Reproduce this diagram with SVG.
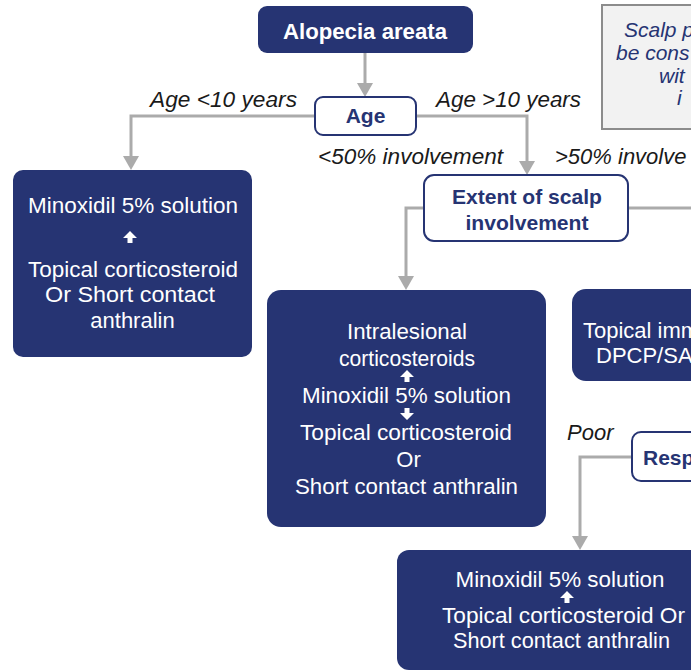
<svg xmlns="http://www.w3.org/2000/svg" width="691" height="672" viewBox="0 0 691 672">
<defs>
<style>
.dark{fill:#263473;}
.lite{fill:#ffffff;stroke:#263473;stroke-width:2;}
.note{fill:#f2f2f2;stroke:#8c8c8c;stroke-width:2;}
.wt{font-family:"Liberation Sans",Arial,sans-serif;font-size:22px;fill:#ffffff;text-anchor:middle;}
.bt{font-family:"Liberation Sans",Arial,sans-serif;font-size:22px;font-weight:bold;fill:#ffffff;text-anchor:middle;}
.nt{font-family:"Liberation Sans",Arial,sans-serif;font-size:21px;font-weight:bold;fill:#263473;text-anchor:middle;}
.lbl{font-family:"Liberation Sans",Arial,sans-serif;font-size:22px;font-style:italic;fill:#1a1a1a;}
.nit{font-family:"Liberation Sans",Arial,sans-serif;font-size:21px;font-style:italic;fill:#263473;}
.con{fill:none;stroke:#ababab;stroke-width:3;}
.wa{fill:#ffffff;}
</style>
<marker id="ah" viewBox="0 0 14 16" markerWidth="14" markerHeight="16" refX="8" refY="8" orient="auto" markerUnits="userSpaceOnUse">
<path d="M0,0 L14,8 L0,16 Z" fill="#ababab"/>
</marker>
</defs>

<g id="connectors">
<path class="con" d="M365,53 V91" marker-end="url(#ah)"/>
<path class="con" d="M315,116 H131 V164" marker-end="url(#ah)"/>
<path class="con" d="M416,116 H527 V169" marker-end="url(#ah)"/>
<path class="con" d="M424,208 H406 V284" marker-end="url(#ah)"/>
<path class="con" d="M628,208 H691"/>
<path class="con" d="M632,457 H580 V544" marker-end="url(#ah)"/>
</g>

<g id="labels">
<text class="lbl" x="150" y="107" textLength="147" lengthAdjust="spacingAndGlyphs">Age &lt;10 years</text>
<text class="lbl" x="436" y="107" textLength="145" lengthAdjust="spacingAndGlyphs">Age &gt;10 years</text>
<text class="lbl" x="318" y="164" textLength="185" lengthAdjust="spacingAndGlyphs">&lt;50% involvement</text>
<text class="lbl" x="555" y="164">&gt;50% involve</text>
<text class="lbl" x="567" y="440">Poor</text>
</g>

<g id="node-alopecia">
<rect class="dark" x="258" y="6" width="215" height="47" rx="9"/>
<text class="bt" x="365" y="39" textLength="164" lengthAdjust="spacingAndGlyphs">Alopecia areata</text>
</g>

<g id="node-age">
<rect class="lite" x="315" y="97" width="101" height="38" rx="8"/>
<text class="nt" x="365.5" y="123">Age</text>
</g>

<g id="node-scalp-note">
<rect class="note" x="602" y="5" width="120" height="124"/>
<text class="nit" x="624" y="37">Scalp p</text>
<text class="nit" x="616" y="60">be cons</text>
<text class="nit" x="659" y="83">wit</text>
<text class="nit" x="677" y="105">i</text>
</g>

<g id="node-extent">
<rect class="lite" x="424" y="175" width="204" height="66" rx="10"/>
<text class="nt" x="527" y="204" textLength="150" lengthAdjust="spacingAndGlyphs">Extent of scalp</text>
<text class="nt" x="527" y="230" textLength="123" lengthAdjust="spacingAndGlyphs">involvement</text>
</g>

<g id="node-child">
<rect class="dark" x="13" y="170" width="239" height="187" rx="10"/>
<text class="wt" x="133" y="213" textLength="210" lengthAdjust="spacingAndGlyphs">Minoxidil 5% solution</text>
<path class="wa" d="M130,231 L137,238 L132.5,238 L132.5,243 L127.5,243 L127.5,238 L123,238 Z"/>
<text class="wt" x="133" y="277" textLength="210" lengthAdjust="spacingAndGlyphs">Topical corticosteroid</text>
<text class="wt" x="130" y="302" textLength="170" lengthAdjust="spacingAndGlyphs">Or Short contact</text>
<text class="wt" x="132.5" y="328">anthralin</text>
</g>

<g id="node-intralesional">
<rect class="dark" x="267" y="290" width="279" height="237" rx="14"/>
<text class="wt" x="407" y="339" textLength="120" lengthAdjust="spacingAndGlyphs">Intralesional</text>
<text class="wt" x="407" y="366" textLength="136" lengthAdjust="spacingAndGlyphs">corticosteroids</text>
<path class="wa" d="M407,370 L414,377 L409.5,377 L409.5,382 L404.5,382 L404.5,377 L400,377 Z"/>
<text class="wt" x="406.5" y="403" textLength="209" lengthAdjust="spacingAndGlyphs">Minoxidil 5% solution</text>
<path class="wa" d="M407,420 L414,413 L409.5,413 L409.5,408 L404.5,408 L404.5,413 L400,413 Z"/>
<text class="wt" x="406" y="440" textLength="212" lengthAdjust="spacingAndGlyphs">Topical corticosteroid</text>
<text class="wt" x="408.5" y="467">Or</text>
<text class="wt" x="406.5" y="494" textLength="223" lengthAdjust="spacingAndGlyphs">Short contact anthralin</text>
</g>

<g id="node-immunotherapy">
<rect class="dark" x="572" y="289" width="160" height="92" rx="14"/>
<text class="wt" x="583" y="338" style="text-anchor:start">Topical imm</text>
<text class="wt" x="596" y="363" style="text-anchor:start">DPCP/SA</text>
</g>

<g id="node-response">
<rect class="lite" x="632" y="432" width="100" height="49" rx="9"/>
<text class="nt" x="643" y="465" style="text-anchor:start">Resp</text>
</g>

<g id="node-poor-response">
<rect class="dark" x="397" y="550" width="330" height="120" rx="12"/>
<text class="wt" x="560" y="587" textLength="209" lengthAdjust="spacingAndGlyphs">Minoxidil 5% solution</text>
<path class="wa" d="M567,591 L574,598 L569.5,598 L569.5,603 L564.5,603 L564.5,598 L560,598 Z"/>
<text class="wt" x="563.5" y="623" textLength="243" lengthAdjust="spacingAndGlyphs">Topical corticosteroid Or</text>
<text class="wt" x="561.5" y="648" textLength="217" lengthAdjust="spacingAndGlyphs">Short contact anthralin</text>
</g>
</svg>
